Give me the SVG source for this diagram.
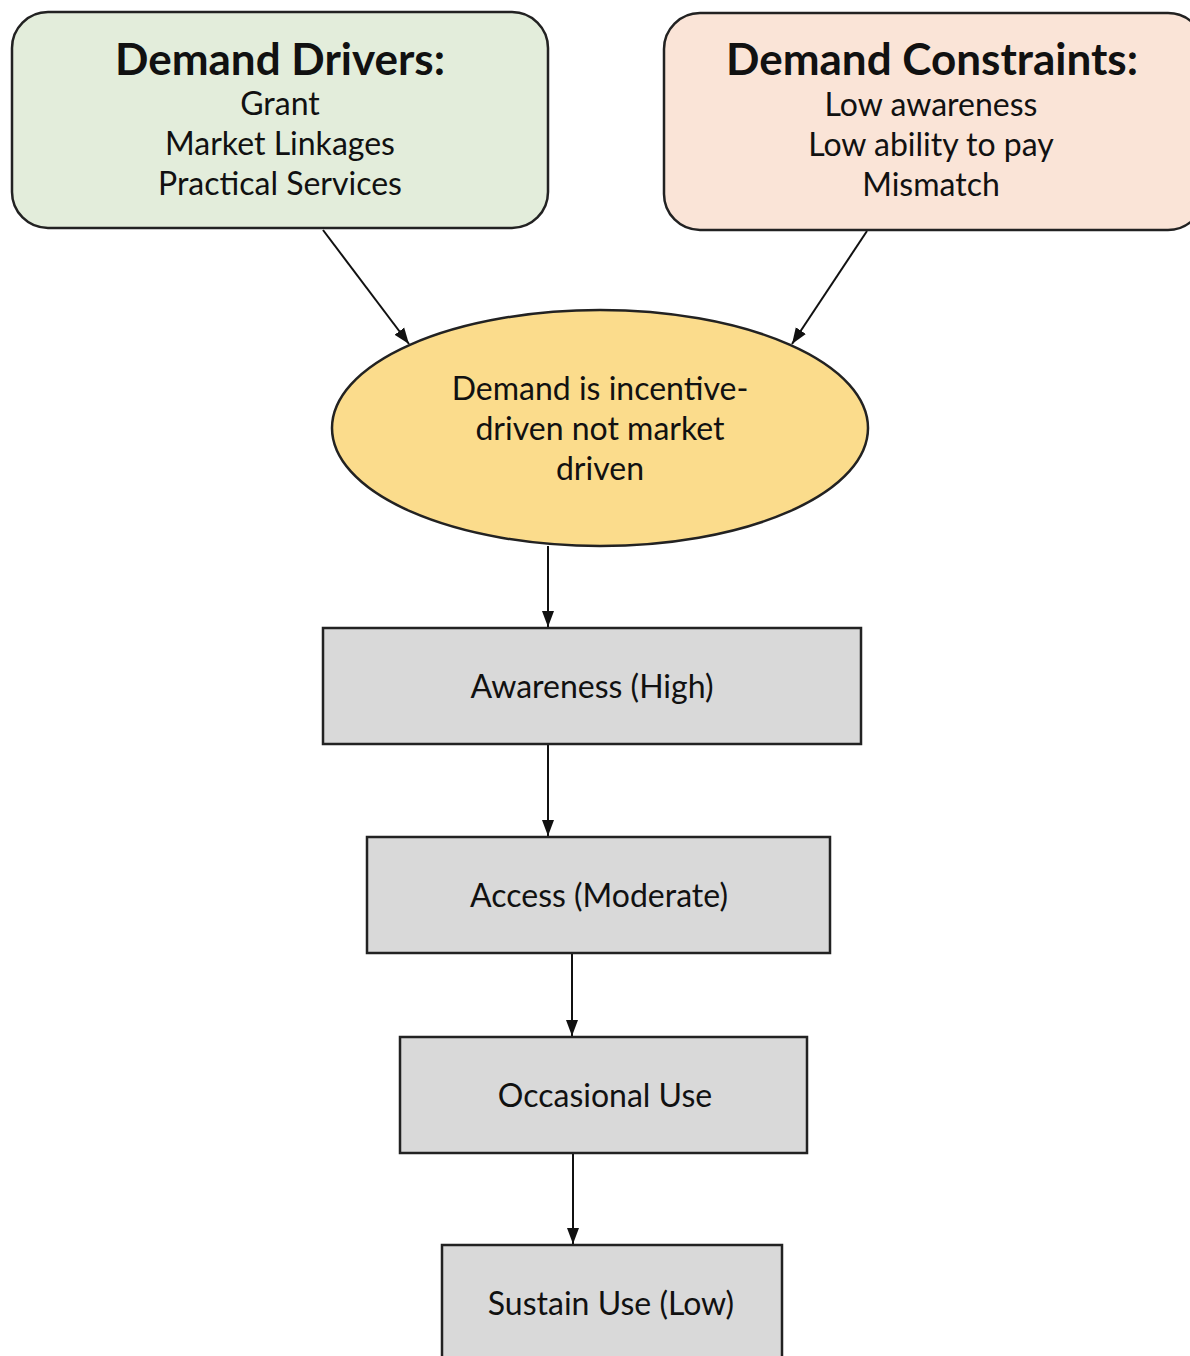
<svg xmlns="http://www.w3.org/2000/svg" width="1190" height="1356" viewBox="0 0 1190 1356">
<defs>
<style>
text{font-family:Lato,"Open Sans","Liberation Sans",sans-serif;fill:#111;text-anchor:middle}
.t{font-size:44px;font-weight:bold}
.l{font-size:32px}
.c{stroke:#111;stroke-width:2;fill:none;marker-end:url(#a)}
.box{fill:#d9d9d9;stroke:#222;stroke-width:2.5}
</style>
<marker id="a" viewBox="0 0 16 14" refX="16" refY="7" markerWidth="16" markerHeight="14" markerUnits="userSpaceOnUse" orient="auto"><path d="M0,1L16,7L0,13z" fill="#111"/></marker>
</defs>
<rect width="1190" height="1356" fill="#fff"/>
<g id="connectors">
<line class="c" x1="323" y1="230" x2="409" y2="344"/>
<line class="c" x1="867" y1="231" x2="792" y2="344"/>
<line class="c" x1="548" y1="546" x2="548" y2="627"/>
<line class="c" x1="548" y1="744" x2="548" y2="836"/>
<line class="c" x1="572" y1="953" x2="572" y2="1036"/>
<line class="c" x1="573" y1="1153" x2="573" y2="1244"/>
</g>
<g id="drivers">
<rect x="12" y="12" width="536" height="216" rx="36" fill="#e3eddb" stroke="#222" stroke-width="2.5"/>
<text class="t" x="280" y="75">Demand Drivers:</text>
<text class="l" x="280" y="115">Grant</text>
<text class="l" x="280" y="155">Market Linkages</text>
<text class="l" x="280" y="195">Practical Services</text>
</g>
<g id="constraints">
<rect x="664" y="13" width="540" height="217" rx="36" fill="#fae4d7" stroke="#222" stroke-width="2.5"/>
<text class="t" x="932" y="75">Demand Constraints:</text>
<text class="l" x="931" y="116">Low awareness</text>
<text class="l" x="931" y="156">Low ability to pay</text>
<text class="l" x="931" y="196">Mismatch</text>
</g>
<g id="incentive">
<ellipse cx="600" cy="428" rx="268" ry="118" fill="#fbdc8c" stroke="#222" stroke-width="2.5"/>
<text class="l" x="600" y="400">Demand is incentive-</text>
<text class="l" x="600" y="440">driven not market</text>
<text class="l" x="600" y="480">driven</text>
</g>
<g id="awareness">
<rect class="box" x="323" y="628" width="538" height="116"/>
<text class="l" x="592" y="698">Awareness (High)</text>
</g>
<g id="access">
<rect class="box" x="367" y="837" width="463" height="116"/>
<text class="l" x="599" y="907">Access (Moderate)</text>
</g>
<g id="occasional">
<rect class="box" x="400" y="1037" width="407" height="116"/>
<text class="l" x="605" y="1107">Occasional Use</text>
</g>
<g id="sustain">
<rect class="box" x="442" y="1245" width="340" height="130"/>
<text class="l" x="611" y="1315">Sustain Use (Low)</text>
</g>
</svg>
